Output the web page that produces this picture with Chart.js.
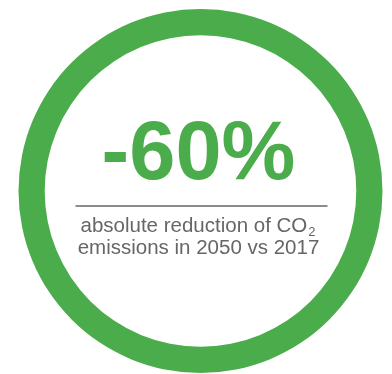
<!DOCTYPE html>
<html>
<head>
<meta charset="utf-8">
<script src="https://cdn.jsdelivr.net/npm/chart.js@4"></script>
<style>
  html, body { margin: 0; padding: 0; background: #fff; }
  #wrap { width: 392px; height: 374px; }
</style>
</head>
<body>
<div id="wrap"><canvas id="ring" width="392" height="374"></canvas></div>
<script>
// datos del anillo
const labels = ['CO2 reduction'];
const values = [100];
const colores = ['#4aac4a'];

// textos del centro
const bigText = '-60%';
const line1 = 'absolute reduction of CO';
const line1Sub = '2';
const line2 = 'emissions in 2050 vs 2017';

// plugin que pinta el texto del centro
const centerText = {
    id: 'centerText',
    afterDraw(chart) {
        const ctx = chart.ctx;
        const meta = chart.getDatasetMeta(0).data[0];
        const cx = meta.x;
        const cy = meta.y;
        ctx.save();
        ctx.textAlign = 'center';
        ctx.textBaseline = 'alphabetic';

        ctx.fillStyle = '#4aac4a';
        ctx.font = 'bold 83px "Liberation Sans", Arial, sans-serif';
        ctx.fillText(bigText, cx - 2, cy - 12);

        // linea separadora
        ctx.strokeStyle = '#666666';
        ctx.lineWidth = 1.5;
        ctx.beginPath();
        ctx.moveTo(cx - 125, cy + 15);
        ctx.lineTo(cx + 127, cy + 15);
        ctx.stroke();

        ctx.fillStyle = '#666666';
        ctx.font = '20.5px "Liberation Sans", Arial, sans-serif';
        const w1 = ctx.measureText(line1).width;
        ctx.font = '13px "Liberation Sans", Arial, sans-serif';
        const ws = ctx.measureText(line1Sub).width;
        const start = cx - (w1 + ws) / 2 - 3;
        ctx.textAlign = 'left';
        ctx.font = '20.5px "Liberation Sans", Arial, sans-serif';
        ctx.fillText(line1, start, cy + 41);
        ctx.font = '13px "Liberation Sans", Arial, sans-serif';
        ctx.fillText(line1Sub, start + w1 + 1, cy + 45);

        ctx.textAlign = 'center';
        ctx.font = '20.5px "Liberation Sans", Arial, sans-serif';
        ctx.fillText(line2, cx - 2, cy + 63);
        ctx.restore();
    }
};

new Chart(document.getElementById('ring'), {
    type: 'doughnut',
    data: {
        labels: labels,
        datasets: [{
            data: values,
            backgroundColor: colores,
            borderWidth: 0
        }]
    },
    options: {
        responsive: false,
        animation: false,
        cutout: '85.6%',
        layout: { padding: { top: 9, bottom: 1, left: 9, right: 0 } },
        plugins: {
            legend: { display: false },
            tooltip: { enabled: false }
        }
    },
    plugins: [centerText]
});
</script>
</body>
</html>
